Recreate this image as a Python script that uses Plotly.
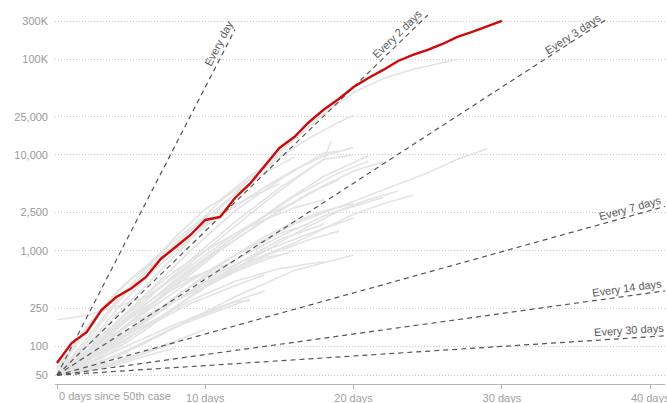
import math
import plotly.graph_objects as go

# ---------------- data ----------------
red_days = list(range(31))
red_values = [67, 109, 141, 240, 328, 403, 531, 819, 1093, 1459, 2094, 2250, 3553, 4978,
              7676, 11840, 15420, 22130, 29880, 38440, 51370, 63800, 77400, 96000, 110900,
              125100, 144500, 171000, 192800, 220000, 251400]

gray_lines = [
    [(0, 52), (2, 100), (4, 210), (6, 430), (8, 900), (10, 1900), (12, 4000), (14, 7800), (16, 14500), (18, 27000), (20, 45000), (22, 63000), (24, 78000), (26, 92000), (27, 100000)],
    [(0, 58), (2, 160), (4, 370), (6, 700), (8, 1300), (10, 2300), (11, 3300), (13, 5600), (15, 9500), (17, 15000), (19, 22000), (20, 26000)],
    [(0, 190), (2, 210), (4, 260), (6, 330), (8, 550), (10, 1000), (12, 1800), (14, 3200), (16, 5500), (18, 9000), (18.5, 14000)],
    [(0, 50), (3, 120), (6, 300), (9, 800), (12, 2000), (15, 4500), (18, 9000), (20, 10000)],
    [(0, 50), (3, 100), (6, 250), (9, 600), (12, 1400), (15, 3000), (18, 6000), (21, 9800)],
    [(0, 50), (4, 110), (8, 330), (12, 900), (16, 1900), (20, 3300), (22, 4300), (25, 6500), (27, 9000), (29, 11600)],
    [(0, 50), (2, 80), (5, 180), (8, 420), (11, 1000), (14, 2100), (17, 4000), (19, 5500)],
    [(0, 60), (3, 130), (6, 320), (9, 700), (12, 1500), (14, 2300), (16, 3200)],
    [(0, 50), (4, 100), (8, 260), (12, 650), (16, 1500), (19, 2600), (22, 3600)],
    [(0, 52), (3, 75), (6, 150), (9, 330), (12, 700), (15, 1300), (18, 1900)],
    [(0, 50), (2, 70), (5, 140), (8, 300), (11, 600), (14, 1000), (17, 1500), (20, 2200)],
    [(0, 55), (3, 90), (6, 170), (9, 300), (12, 480), (15, 650), (18, 770)],
    [(0, 50), (4, 90), (8, 170), (11, 260), (14, 380)],
    [(0, 50), (3, 65), (6, 110), (9, 190), (12, 290), (13, 300)],
    [(0, 50), (2, 58), (4, 70), (7, 100), (10, 150)],
    [(0, 50), (3, 60), (5, 75), (8, 110)],
    [(0, 50), (2, 100), (4, 240), (6, 520), (8, 1000), (10, 1800), (12, 2900), (14, 4600), (16, 7000), (18, 9800), (20, 12000)],
    [(0, 50), (1, 90), (3, 250), (5, 500), (7, 900), (9, 1500), (11, 2400), (13, 3600), (15, 5000)],
    [(0, 50), (2, 90), (4, 180), (6, 350), (8, 620), (10, 1000), (12, 1500), (14, 2100), (16, 2800), (18, 3400)],
    [(0, 52), (2, 70), (4, 110), (6, 190), (8, 330), (10, 560), (12, 900), (14, 1400), (16, 2000), (18, 2600), (20, 3100)],
    [(0, 50), (3, 100), (6, 230), (9, 480), (12, 900), (15, 1500), (17, 1900)],
    [(0, 50), (2, 65), (4, 100), (6, 160), (8, 260), (10, 420), (12, 620), (14, 850), (15, 900)],
    [(0, 50), (1, 65), (3, 120), (5, 200), (7, 330), (9, 500), (11, 700)],
    [(0, 50), (2, 85), (4, 160), (6, 280), (8, 450), (10, 600), (12, 760)],
    [(0, 56), (2, 80), (5, 150), (8, 300), (11, 550), (14, 900), (16, 1200), (18, 1700), (20, 2400), (22, 3100), (24, 3800)],
    [(0, 50), (3, 110), (6, 280), (9, 620), (12, 1300), (15, 2600), (18, 4800), (20, 6800), (22, 8500)],
    [(0, 50), (2, 110), (4, 280), (6, 600), (8, 1200), (10, 2200), (12, 3900), (14, 6500), (16, 9500)],
    [(0, 50), (3, 120), (6, 350), (9, 1000), (12, 2600), (15, 5500), (18, 10500), (19, 11000)],
    [(0, 50), (4, 150), (8, 500), (12, 1400), (16, 3700), (19, 6500), (21, 8600)],
    [(0, 50), (4, 80), (8, 160), (12, 330), (16, 620), (20, 900)],
    [(0, 50), (1, 55), (3, 62), (5, 75)],
    [(0, 50), (2, 55), (4, 64), (6, 80), (8, 96)],
    [(0, 60), (2, 90), (4, 140), (6, 210), (8, 300), (10, 420), (12, 600), (14, 800), (16, 1000)],
    [(0, 50), (2, 75), (5, 150), (8, 300), (11, 560), (13, 780), (15, 1000), (17, 1300), (19, 1600)],
    [(0, 50), (2, 120), (4, 300), (6, 650), (8, 1400), (10, 2700), (11, 3400), (13, 6000), (15, 10000)],
    [(0, 50), (3, 90), (6, 200), (9, 420), (12, 800), (15, 1400), (18, 2300), (21, 3400), (23, 4200)],
    [(0, 53), (3, 85), (6, 160), (9, 280), (12, 430), (14, 560)],
    [(0, 50), (2, 60), (5, 95), (8, 160), (11, 240), (13, 310)],
]

rate_days = [1, 2, 3, 7, 14, 30]
rate_labels = ["Every day", "Every 2 days", "Every 3 days", "Every 7 days", "Every 14 days", "Every 30 days"]
rate_end_days = [12, 25, 37, 41, 41, 41]
start_value = 50

y_tickvals = [50, 100, 250, 1000, 2500, 10000, 25000, 100000, 250000]
y_ticktext = ["50", "100", "250", "1,000", "2,500", "10,000", "25,000", "100K", "300K"]
x_tickvals = [0, 10, 20, 30, 40]
x_ticktext = ["", "10 days", "20 days", "30 days", "40 days"]
first_x_label = "0 days since 50th case"

# ---------------- styling / layout ----------------
W, H = 667, 403
M = dict(l=55, r=2, t=5, b=19)
x_range = [-0.135, 41.0]
y_range = [1.607, 5.567]
label_anchor_days = [11.4, 23.3, 35.0, 38.8, 38.5, 38.6]
label_offsets = [8, 8, 6, 8, 8, 8]
FONT = "Liberation Sans, Arial, sans-serif"

fig = go.Figure()

for line in gray_lines:
    fig.add_trace(go.Scatter(x=[p[0] for p in line], y=[p[1] for p in line], mode="lines",
                             line=dict(color="#e3e3e3", width=1.6), hoverinfo="skip", showlegend=False))

plot_w = W - M["l"] - M["r"]
plot_h = H - M["t"] - M["b"]
px_per_day = plot_w / (x_range[1] - x_range[0])
px_per_decade = plot_h / (y_range[1] - y_range[0])

for n, lab, end, ad, off in zip(rate_days, rate_labels, rate_end_days, label_anchor_days, label_offsets):
    fig.add_trace(go.Scatter(x=[0, end], y=[start_value, start_value * 2 ** (end / n)], mode="lines",
                             line=dict(color="#555555", width=1.2, dash="5px,4px"),
                             hoverinfo="skip", showlegend=False))
    slope = (math.log10(2) / n * px_per_decade) / px_per_day
    ang = math.degrees(math.atan(slope))
    yv = math.log10(start_value) + ad / n * math.log10(2)
    fig.add_annotation(x=ad, y=yv, text=lab, showarrow=False, textangle=-ang,
                       xshift=-off * math.sin(math.radians(ang)), yshift=off * math.cos(math.radians(ang)),
                       font=dict(family=FONT, size=11, color="#5a5a5a"))

fig.add_trace(go.Scatter(x=red_days, y=red_values, mode="lines",
                         line=dict(color="#cc0a0a", width=2.4), hoverinfo="skip", showlegend=False))

fig.add_annotation(x=0, xref="x", y=0, yref="paper", yshift=-12, xanchor="left", yanchor="middle",
                   text=first_x_label, showarrow=False, font=dict(family=FONT, size=11, color="#a0a0a0"))

fig.update_layout(
    width=W, height=H, margin=M, paper_bgcolor="white", plot_bgcolor="white",
    font=dict(family=FONT, size=11, color="#999999"),
    xaxis=dict(range=x_range, tickvals=x_tickvals, ticktext=x_ticktext, showgrid=False, zeroline=False,
               showline=True, linecolor="#b5b5b5", linewidth=1, ticks="outside", ticklen=4,
               tickcolor="#b5b5b5", ticklabeloverflow="allow", automargin=False,
               tickfont=dict(family=FONT, size=11, color="#a0a0a0")),
    yaxis=dict(type="log", range=y_range, tickvals=y_tickvals, ticktext=y_ticktext, showgrid=True,
               gridcolor="#c8c8c8", griddash="1px,2px", gridwidth=1, zeroline=False, showline=False, ticks="",
               automargin=False, ticklabelstandoff=6, tickfont=dict(family=FONT, size=11, color="#999999")),
)

fig.write_html("out.html", config={"displayModeBar": False},
               post_script="document.body.style.margin='0px';document.body.style.overflow='hidden';")
